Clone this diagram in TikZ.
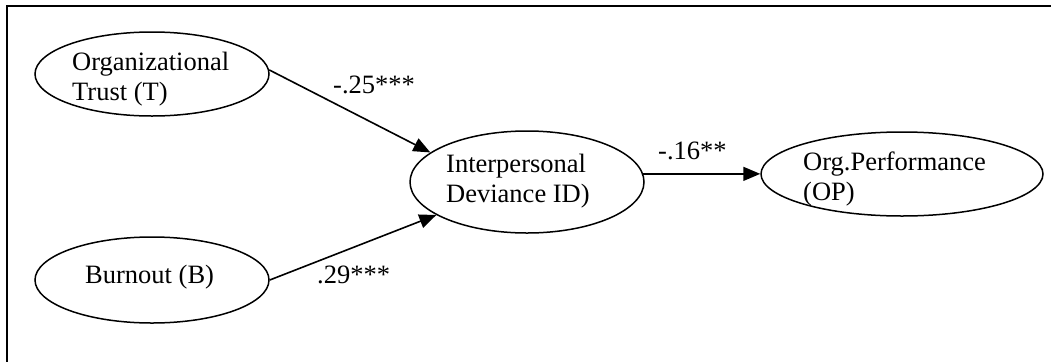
\documentclass[tikz,border=0pt]{standalone}
\usepackage{fontspec}
\setmainfont{Liberation Serif}
\usetikzlibrary{arrows.meta,shapes.geometric}
\begin{document}
\begin{tikzpicture}[x=1pt,y=-1pt,
  oval/.style={draw=black, line width=1.5pt, ellipse, inner sep=0pt},
  txt/.style={inner sep=0pt, align=left, font=\fontsize{26.5}{30}\selectfont},
  lbl/.style={inner sep=0pt, font=\fontsize{26.5}{30}\selectfont},
  arr/.style={line width=1.6pt, -{Triangle[length=17pt,width=14pt]}},
  frame/.style={line width=2pt}]
\useasboundingbox (0,0) rectangle (1051,362);
\coordinate (ftr) at (1051,6);
\coordinate (ftl) at (7,6);
\coordinate (fbl) at (7,362);
\draw[frame] (ftr) -- (ftl) -- (fbl);
% ellipses
\node[oval, minimum width=234pt, minimum height=84pt] (T) at (152,74) {};
\node[oval, minimum width=234pt, minimum height=86pt] (B) at (152,280) {};
\node[oval, minimum width=234pt, minimum height=102pt] (ID) at (527,182) {};
\node[oval, minimum width=282pt, minimum height=84pt] (OP) at (902,174) {};
% texts
\node[txt, anchor=north west] (Tt) at (72,52) {Organizational\\Trust (T)};
\node[txt, anchor=base west] (Bt) at (85,283) {Burnout (B)};
\node[txt, anchor=north west] (IDt) at (446,154) {Interpersonal\\Deviance ID)};
\node[txt, anchor=north west] (OPt) at (803,152) {Org.Performance\\(OP)};
% connectors
\draw[arr] (T.2) -- (ID.163);
\draw[arr] (B.east) -- (ID.200);
\draw[arr] (ID.4) -- (ID.4 -| OP.west);
% labels
\node[lbl, anchor=base west] (l1) at (333,93) {-.25***};
\node[lbl, anchor=base west] (l2) at (317,283) {.29***};
\node[lbl, anchor=base west] (l3) at (658,159) {-.16**};
\end{tikzpicture}
\end{document}
